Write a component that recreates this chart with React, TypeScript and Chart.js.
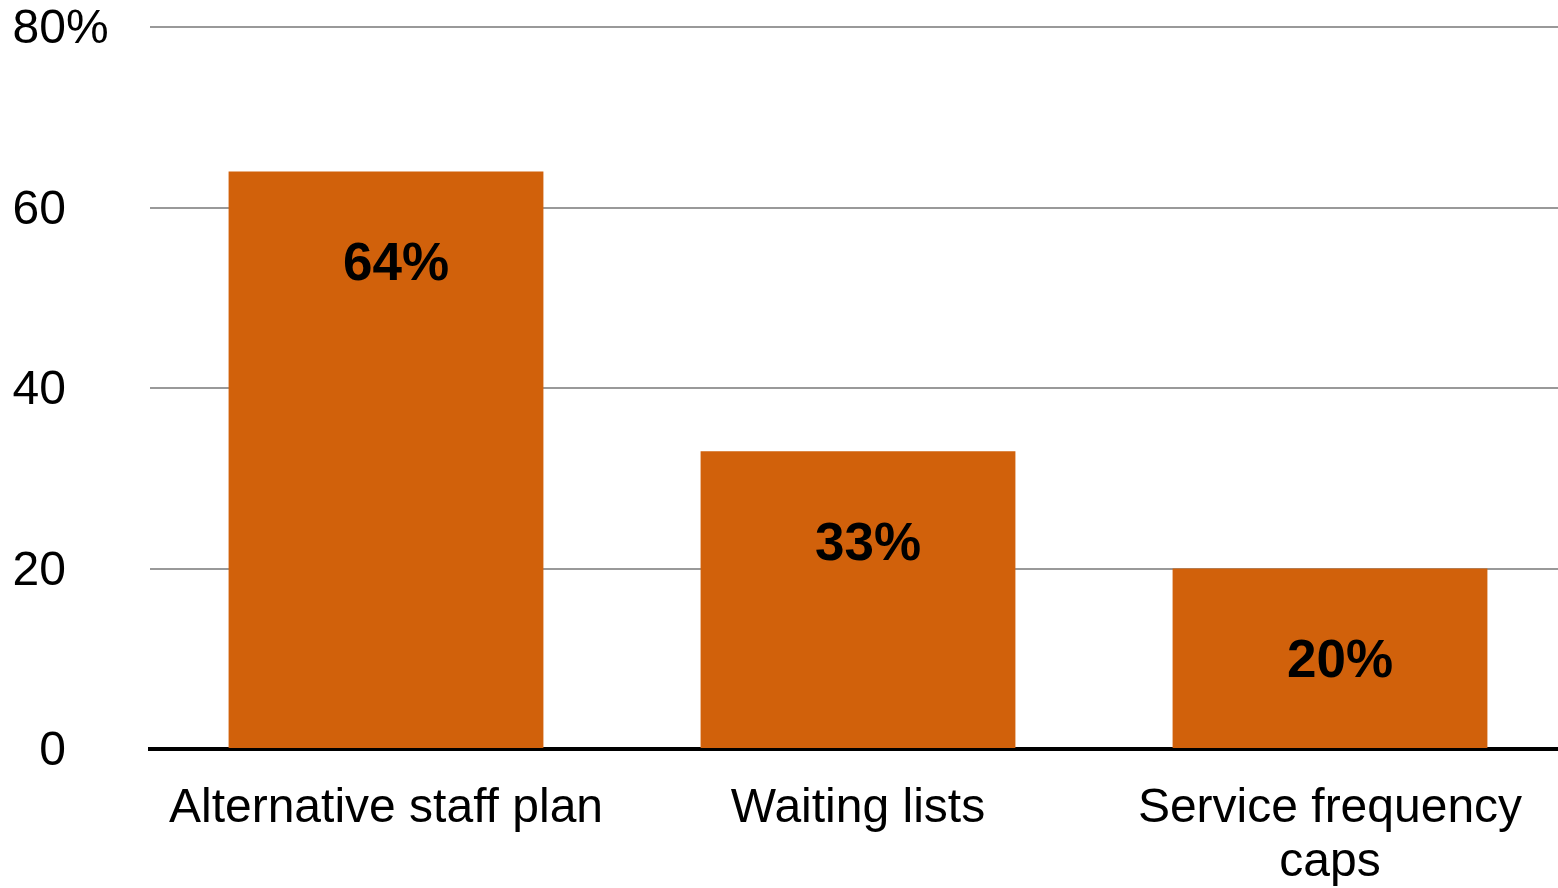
import React, { useEffect, useRef } from "react";
import { Chart, registerables } from "chart.js";

Chart.register(...registerables);

const categories: string[][] = [["Alternative staff plan"], ["Waiting lists"], ["Service frequency", "caps"]];
const values: number[] = [64, 33, 20];
const yTickValues: number[] = [0, 20, 40, 60, 80];
const yMax = 80;

const BAR_COLOR = "#D1610B";
const FONT = "'Liberation Sans', Arial, sans-serif";

export default function App() {
  const ref = useRef<HTMLCanvasElement>(null);

  useEffect(() => {
    if (!ref.current) return;

    const yLabelPlugin = {
      id: "yLabels",
      afterDraw(chart: any) {
        const { ctx } = chart;
        const y = chart.scales.y;
        ctx.save();
        ctx.font = `48px ${FONT}`;
        ctx.fillStyle = "#000";
        ctx.textBaseline = "middle";
        yTickValues.forEach((t, i) => {
          const py = y.getPixelForValue(t) + 3;
          ctx.textAlign = "right";
          ctx.fillText(String(t), 66, py);
          if (i === yTickValues.length - 1) {
            ctx.textAlign = "left";
            ctx.fillText("%", 66, py);
          }
        });
        ctx.restore();
      },
    };

    const dataLabelPlugin = {
      id: "dataLabels",
      afterDatasetsDraw(chart: any) {
        const { ctx } = chart;
        const meta = chart.getDatasetMeta(0);
        ctx.save();
        ctx.font = `bold 53px ${FONT}`;
        ctx.fillStyle = "#000";
        ctx.textAlign = "center";
        ctx.textBaseline = "middle";
        meta.data.forEach((bar: any, i: number) => {
          ctx.fillText(`${values[i]}%`, bar.x + 10, bar.y + 94);
        });
        ctx.restore();
      },
    };

    const chart = new Chart(ref.current, {
      type: "bar",
      data: {
        labels: categories,
        datasets: [
          {
            data: values,
            backgroundColor: BAR_COLOR,
            borderWidth: 0,
            barPercentage: 0.667,
            categoryPercentage: 1,
          },
        ],
      },
      options: {
        animation: false,
        responsive: false,
        devicePixelRatio: 1,
        layout: { padding: { top: 27, left: 150, right: 0, bottom: 0 } },
        plugins: {
          legend: { display: false },
          tooltip: { enabled: false },
        },
        scales: {
          x: {
            z: 1,
            grid: { display: false },
            border: { display: true, color: "#000", width: 4 },
            ticks: {
              color: "#000",
              font: { family: FONT, size: 48, lineHeight: 1.12 },
              maxRotation: 0,
              minRotation: 0,
              autoSkip: false,
              padding: 25,
            },
            afterFit: (scale: any) => {
              scale.height = 139;
            },
          },
          y: {
            min: 0,
            max: yMax,
            ticks: { display: false, stepSize: 20 },
            grid: { color: "#999999", lineWidth: 2, drawTicks: false },
            border: { display: false },
          },
        },
      },
      plugins: [yLabelPlugin, dataLabelPlugin],
    });

    return () => chart.destroy();
  }, []);

  return (
    <div style={{ position: "absolute", left: 0, top: 0, width: 1558, height: 888, overflow: "hidden", background: "#fff" }}>
      <canvas ref={ref} width={1566} height={888} style={{ display: "block", width: 1566, height: 888 }} />
    </div>
  );
}
